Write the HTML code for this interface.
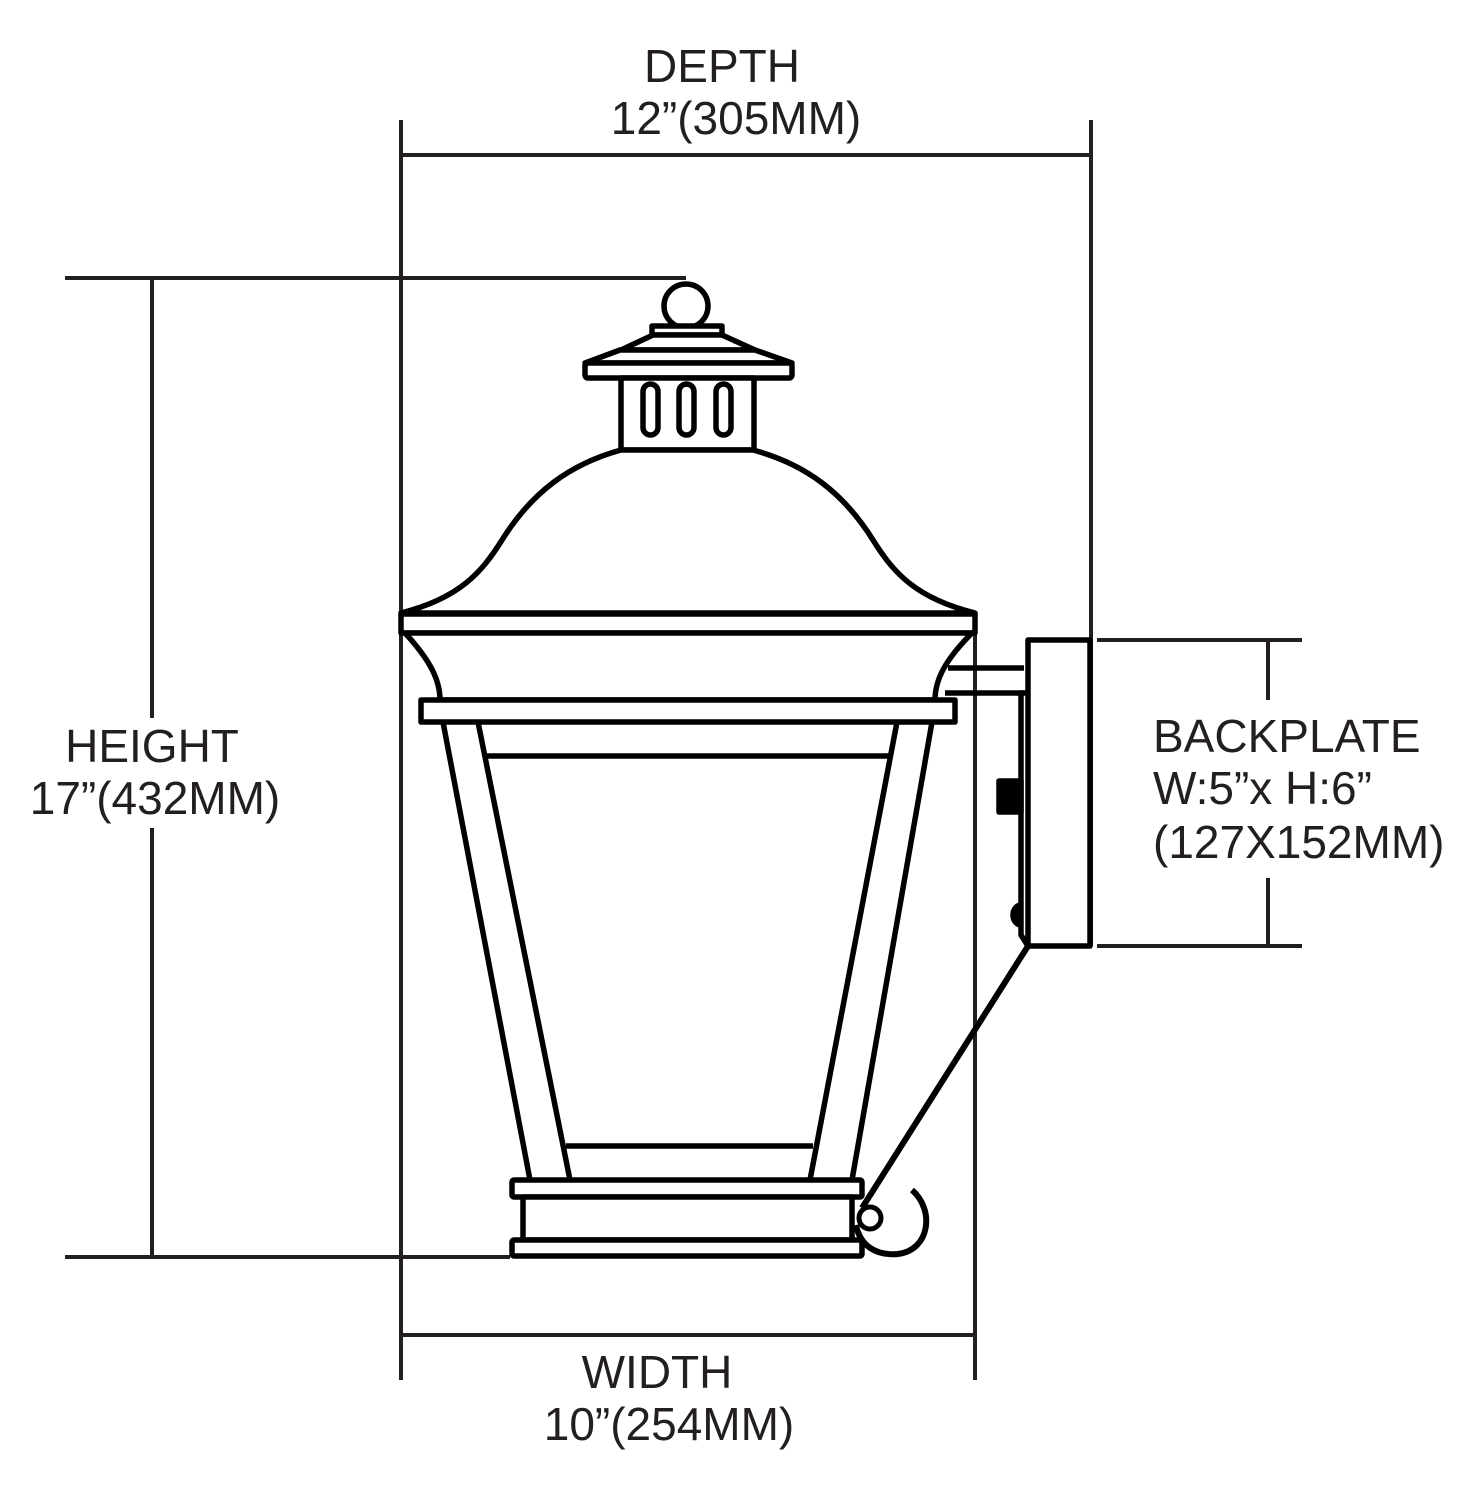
<!DOCTYPE html>
<html><head><meta charset="utf-8"><style>
html,body{margin:0;padding:0;background:#fff;}
svg{display:block;}
text{font-family:"Liberation Sans",Arial,sans-serif;font-size:46px;fill:#231f20;}
</style></head><body>
<svg width="1480" height="1500" viewBox="0 0 1480 1500" xmlns="http://www.w3.org/2000/svg">
<g stroke="#231f20" stroke-width="4" fill="none">
<line x1="401" y1="120" x2="401" y2="1380"/>
<line x1="1091" y1="120" x2="1091" y2="946"/>
<line x1="401" y1="155" x2="1091" y2="155"/>
<line x1="65" y1="278" x2="686" y2="278"/>
<line x1="65" y1="1257" x2="510" y2="1257"/>
<line x1="152" y1="278" x2="152" y2="718"/>
<line x1="152" y1="828" x2="152" y2="1257"/>
<line x1="975" y1="615" x2="975" y2="1380"/>
<line x1="401" y1="1335" x2="975" y2="1335"/>
<line x1="1097" y1="640" x2="1302" y2="640"/>
<line x1="1097" y1="946" x2="1302" y2="946"/>
<line x1="1268" y1="640" x2="1268" y2="700"/>
<line x1="1268" y1="878" x2="1268" y2="946"/>
</g>
<g stroke="#000" stroke-width="5.5" fill="#fff" stroke-linejoin="round">
<circle cx="686" cy="306" r="22"/>
<rect x="652" y="326" width="70" height="9"/>
<path d="M621,350 L653,335 L722,335 L755,350 Z"/>
<path d="M585,363 L620,350 L755,350 L792,363 Z"/>
<rect x="585" y="363" width="207" height="15" rx="3"/>
<rect x="621" y="378" width="133" height="72"/>
<rect x="643" y="384" width="15" height="51" rx="7.5"/>
<rect x="679" y="384" width="15" height="51" rx="7.5"/>
<rect x="716" y="384" width="15" height="51" rx="7.5"/>
<path d="M401,613 C460,598 482,572 502,540 C532,492 570,464 621,450 L753,450 C805,464 843,492 873,540 C893,572 915,598 975,613 Z"/>
<rect x="401" y="614" width="574" height="19"/>
<path d="M405,633 C430,660 440,680 440,700 L935,700 C935,680 945,660 972,633 Z"/>
<path d="M948,668 L1024,668 M945,693 L1024,693" fill="none"/>
<rect x="421" y="700" width="534" height="22"/>
<path d="M443,722 L530,1180 M478,722 L570,1180 M932,722 L852,1180 M897,722 L810,1180" fill="none"/>
<line x1="484" y1="756" x2="891" y2="756"/>
<line x1="566" y1="1146" x2="813" y2="1146"/>
<rect x="512" y="1180" width="350" height="17" rx="2"/>
<rect x="523" y="1197" width="329" height="43"/>
<rect x="512" y="1240" width="350" height="16" rx="2"/>
<rect x="1028" y="640" width="62" height="306"/>
<path d="M1028,693 L1021,693 L1021,935 L1028,946" fill="none"/>
<rect x="999" y="781" width="22" height="31" fill="#000"/>
<path d="M1021,905 A8,10 0 0 0 1021,925" fill="#000"/>
<path d="M1028,946 L862,1208" fill="none" stroke-width="6"/>
<path d="M912,1190 C935,1210 930,1250 898,1254 C875,1256 860,1245 856,1225" fill="none" stroke-width="6"/>
<circle cx="870" cy="1218" r="11" stroke-width="5"/>
</g>
<text x="722" y="82" text-anchor="middle">DEPTH</text>
<text x="736" y="134" text-anchor="middle">12”(305MM)</text>
<text x="152" y="762" text-anchor="middle">HEIGHT</text>
<text x="155" y="814" text-anchor="middle">17”(432MM)</text>
<text x="657" y="1388" text-anchor="middle">WIDTH</text>
<text x="669" y="1440" text-anchor="middle">10”(254MM)</text>
<text x="1153" y="752">BACKPLATE</text>
<text x="1153" y="804">W:5”x H:6”</text>
<text x="1153" y="858">(127X152MM)</text>
</svg>
</body></html>
